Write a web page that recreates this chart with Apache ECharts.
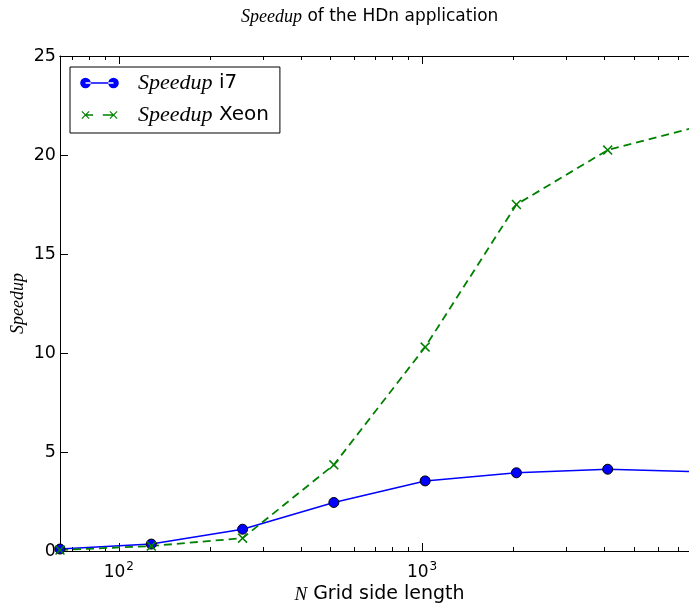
<!DOCTYPE html>
<html>
<head>
<meta charset="utf-8">
<script src="https://cdn.jsdelivr.net/npm/echarts@6/dist/echarts.min.js"></script>
<style>html,body{margin:0;padding:0;background:#fff}#c{width:689px;height:608px}</style>
</head>
<body>
<div id="c"></div>
<script>
const gridSizes = [64, 128, 256, 512, 1024, 2048, 4096, 8192];
const speedupI7 = [0.1, 0.35, 1.1, 2.45, 3.54, 3.95, 4.13, 4.0];
const speedupXeon = [0.05, 0.25, 0.65, 4.35, 10.3, 17.5, 20.25, 21.45];
const majorTicks = [100, 1000];
const minorTicks = [70, 80, 90, 200, 300, 400, 500, 600, 700, 800, 900, 2000, 3000, 4000, 5000, 6000, 7000, 8000];
const yTicks = [0, 5, 10, 15, 20, 25];

function xShape(cx, cy, h, d) {
  const p = [[-h,-h+d],[-h+d,-h],[0,-d],[h-d,-h],[h,-h+d],[d,0],[h,h-d],[h-d,h],[0,d],[-h+d,h],[-h,h-d],[-d,0]];
  return 'M' + p.map(q => (cx+q[0]) + ',' + (cy+q[1])).join(' L') + ' Z';
}
function circ(cx, cy, r) {
  return 'M' + (cx-r) + ',' + cy + ' A' + r + ',' + r + ' 0 1,0 ' + (cx+r) + ',' + cy + ' A' + r + ',' + r + ' 0 1,0 ' + (cx-r) + ',' + cy + ' Z';
}
const specks = ' M0,0 L1,0 L0,1 Z M390,110 L389,110 L390,109 Z';
const blueIcon = 'path://' + circ(55,55,53) + ' ' + circ(335,55,53) + ' M55,47 L335,47 L335,63 L55,63 Z' + specks;
const greenIcon = 'path://' + xShape(55,55,40,8) + ' ' + xShape(335,55,40,8) + ' M55,47 L130,47 L130,63 L55,63 Z M228,47 L335,47 L335,63 L228,63 Z' + specks;
const xMarker = 'path://' + xShape(50,50,50,11);

const ital = { fontFamily: 'Liberation Serif', fontStyle: 'italic' };

function logAxis(pos, ticks, len, labels) {
  return {
    type: 'log', logBase: 10, min: 64, max: 8192, position: pos,
    axisLine: { show: true, lineStyle: { color: '#000', width: 1 } },
    axisTick: { show: true, inside: true, length: len, customValues: ticks, lineStyle: { color: '#000', width: 1 } },
    minorTick: { show: false },
    splitLine: { show: false },
    axisLabel: labels ? {
      show: true, customValues: majorTicks, margin: 10, color: '#000',
      formatter: v => '{b|10}{s|' + Math.round(Math.log10(v)) + '}',
      rich: { b: { fontSize: 17, fontFamily: 'DejaVu Sans', color: '#000', lineHeight: 20, verticalAlign: 'bottom' },
              s: { fontSize: 12, fontFamily: 'DejaVu Sans', color: '#000', lineHeight: 20, verticalAlign: 'top', padding: [0, 0, 0, 1] } }
    } : { show: false }
  };
}

const xa0 = logAxis('bottom', majorTicks, 8, true);
xa0.name = '{i|N} Grid side length';
xa0.nameLocation = 'middle';
xa0.nameGap = 34;
xa0.nameMoveOverlap = false;
xa0.nameTextStyle = { fontSize: 19, fontFamily: 'DejaVu Sans', color: '#000', rich: { i: Object.assign({ fontSize: 19 }, ital) } };

const chart = echarts.init(document.getElementById('c'));
chart.setOption({
  animation: false,
  backgroundColor: '#fff',
  title: {
    text: '{i|Speedup} of the HDn application',
    left: 236, top: 3,
    textStyle: { fontSize: 17, fontWeight: 'normal', fontFamily: 'DejaVu Sans', color: '#000',
      rich: { i: Object.assign({ fontSize: 18 }, ital) } }
  },
  grid: { left: 60, right: -10, top: 56, bottom: 57, outerBoundsMode: 'none', containLabel: false },
  legend: {
    orient: 'vertical', left: 70, top: 67,
    backgroundColor: '#fff', borderColor: '#000', borderWidth: 1, borderRadius: 0,
    padding: [4, 11, 6, 10],
    itemWidth: 39, itemHeight: 11, itemGap: 8,
    data: [{ name: 'Speedup i7', icon: blueIcon, itemStyle: { borderWidth: 0 } },
           { name: 'Speedup Xeon', icon: greenIcon, itemStyle: { borderWidth: 0 } }],
    formatter: n => '{i|Speedup} ' + n.replace('Speedup ', ''),
    textStyle: { fontSize: 20, fontFamily: 'DejaVu Sans', color: '#000', lineHeight: 24, padding: [0, 0, 0, 14],
      rich: { i: Object.assign({ fontSize: 22, lineHeight: 24 }, ital) } }
  },
  xAxis: [xa0, logAxis('bottom', minorTicks, 4, false), logAxis('top', majorTicks, 8, false), logAxis('top', minorTicks, 4, false)],
  yAxis: {
    type: 'value', min: 0, max: 25, interval: 5,
    name: 'Speedup', nameLocation: 'middle', nameGap: 33, nameMoveOverlap: false,
    nameTextStyle: Object.assign({ fontSize: 18, color: '#000' }, ital),
    axisLine: { show: true, lineStyle: { color: '#000', width: 1 } },
    axisTick: { show: true, inside: true, length: 8, customValues: yTicks, lineStyle: { color: '#000' } },
    splitLine: { show: false },
    axisLabel: { color: '#000', fontSize: 17.5, fontFamily: 'DejaVu Sans', margin: 4 }
  },
  series: [
    {
      name: 'Speedup i7', type: 'line', xAxisIndex: 0,
      data: gridSizes.map((g, i) => [g, speedupI7[i]]),
      symbol: 'circle', symbolSize: 10,
      lineStyle: { color: '#0000ff', width: 1.5 },
      itemStyle: { color: '#0000ff', borderColor: '#000', borderWidth: 1 },
      emphasis: { disabled: true }
    },
    {
      name: 'Speedup Xeon', type: 'line', xAxisIndex: 0,
      data: gridSizes.map((g, i) => [g, speedupXeon[i]]),
      symbol: xMarker, symbolSize: 10,
      lineStyle: { color: '#008000', width: 1.8, type: [8, 5] },
      itemStyle: { color: '#008000', borderWidth: 0 },
      emphasis: { disabled: true }
    }
  ]
});
</script>
</body>
</html>
